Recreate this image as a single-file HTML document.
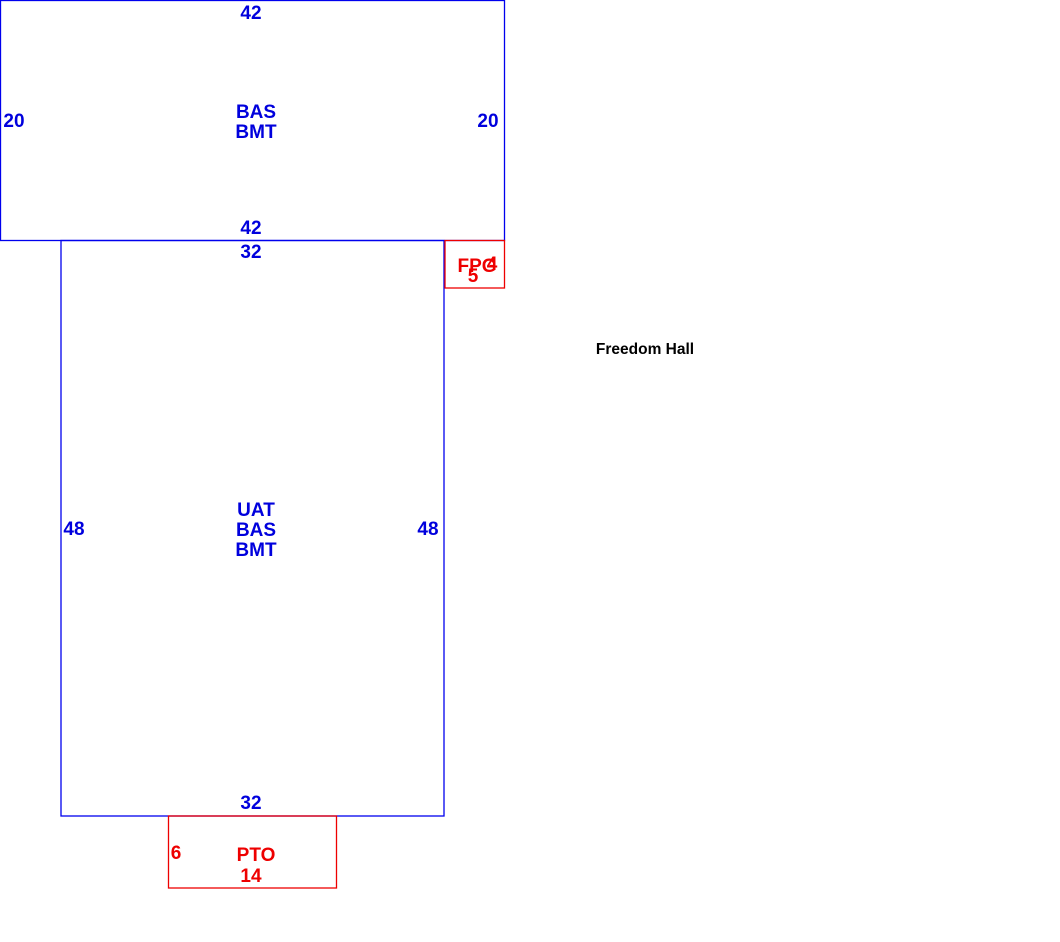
<!DOCTYPE html>
<html><head><style>body{margin:0;background:#fff}svg{display:block}text{font-family:"Liberation Sans",Arial,sans-serif;font-weight:bold;font-size:19px}</style></head>
<body>
<svg width="1060" height="942" xmlns="http://www.w3.org/2000/svg">
<g fill="none" stroke-width="1.3">
<rect x="0.5" y="0.5" width="504" height="240" stroke="#0000ee"/>
<rect x="61" y="240.5" width="383" height="575.5" stroke="#0000ee"/>
<rect x="445" y="240.5" width="59.5" height="47.5" stroke="#ee0000"/>
<rect x="168.5" y="816" width="168" height="72" stroke="#ee0000"/>
</g>
<g fill="#0000dd" text-anchor="middle">
<text x="251" y="19">42</text>
<text x="14" y="127">20</text>
<text x="488" y="127">20</text>
<text x="256" y="118">BAS</text>
<text x="256" y="138">BMT</text>
<text x="251" y="234">42</text>
<text x="251" y="258">32</text>
<text x="74" y="535">48</text>
<text x="428" y="535">48</text>
<text x="256" y="516">UAT</text>
<text x="256" y="536">BAS</text>
<text x="256" y="556">BMT</text>
<text x="251" y="809">32</text>
</g>
<g fill="#ee0000" text-anchor="middle">
<text x="477" y="272">FPG</text>
<text x="492" y="270">4</text>
<text x="473" y="282">5</text>
<text x="176" y="859">6</text>
<text x="256" y="861">PTO</text>
<text x="251" y="882">14</text>
</g>
<text x="645" y="354" text-anchor="middle" fill="#000" style="font-size:15.5px">Freedom Hall</text>
</svg>
</body></html>
